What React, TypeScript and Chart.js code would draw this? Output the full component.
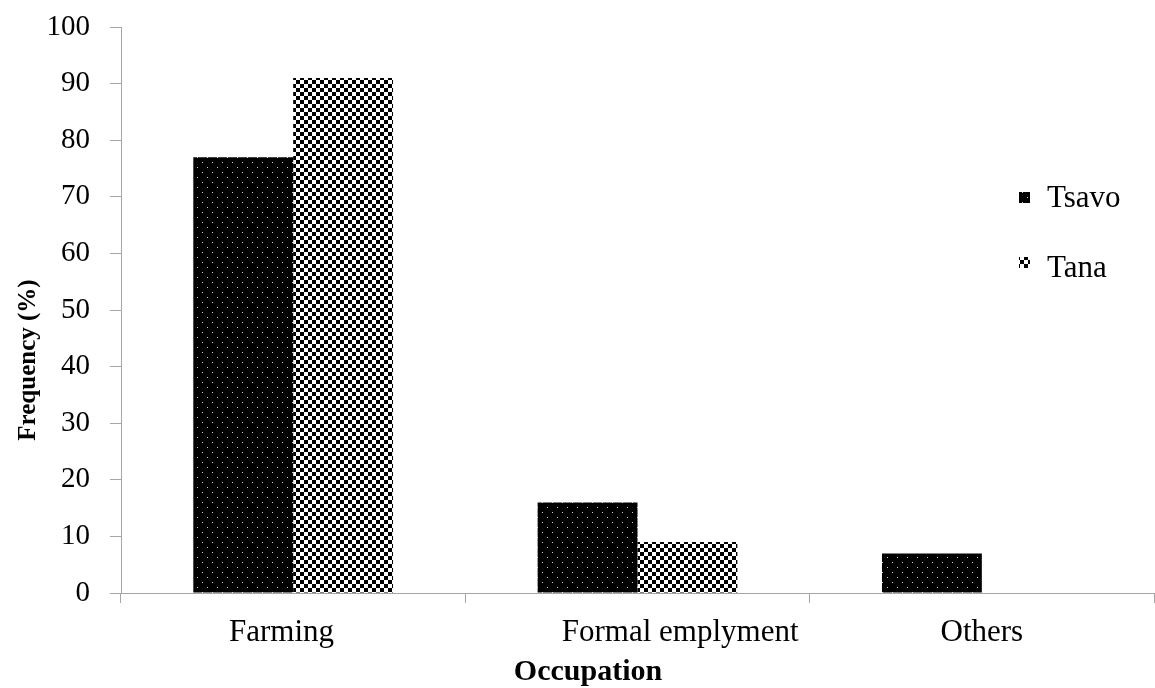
import React, { useEffect, useRef } from "react";
import { Chart, registerables } from "chart.js";

Chart.register(...registerables);

// Occupation categories and the shares (%) of each study area
const categories = ["Farming", "Formal emplyment", "Others"];
// Axis labels as typed in the source sheet (padding spaces shift their centres)
const tickLabels = ["Farming   ", "           Formal emplyment", "Others"];
const tsavoValues = [77, 16, 7];
const tanaValues = [91, 9, 0];
const seriesNames = ["Tsavo", "Tana"];
const yTicks = { min: 0, max: 100, step: 10 };

const SERIF = '"Liberation Serif", "Times New Roman", serif';
const AXIS_GREY = "#a6a6a6";

function makeDotPattern(ctx: CanvasRenderingContext2D): CanvasPattern {
  const c = document.createElement("canvas");
  c.width = 10;
  c.height = 10;
  const g = c.getContext("2d")!;
  g.fillStyle = "#000";
  g.fillRect(0, 0, 10, 10);
  g.fillStyle = "#cfcfcf";
  g.fillRect(2, 2, 1, 1);
  g.fillRect(7, 7, 1, 1);
  return ctx.createPattern(c, "repeat")!;
}

function makeCheckerPattern(ctx: CanvasRenderingContext2D): CanvasPattern {
  const c = document.createElement("canvas");
  c.width = 8;
  c.height = 8;
  const g = c.getContext("2d")!;
  g.fillStyle = "#fff";
  g.fillRect(0, 0, 8, 8);
  g.fillStyle = "#000";
  g.fillRect(0, 0, 4, 4);
  g.fillRect(4, 4, 4, 4);
  return ctx.createPattern(c, "repeat")!;
}

export default function App() {
  const canvasRef = useRef<HTMLCanvasElement | null>(null);

  useEffect(() => {
    const canvas = canvasRef.current;
    if (!canvas) return;
    const ctx = canvas.getContext("2d")!;
    const dots = makeDotPattern(ctx);
    const checker = makeCheckerPattern(ctx);
    const fills = [dots, checker];

    // Axis titles, placed as in the original layout
    const axisTitles = {
      id: "axisTitles",
      afterDraw(chart: Chart) {
        const c = chart.ctx;
        c.save();
        c.fillStyle = "#000";
        c.font = `bold 30px ${SERIF}`;
        c.textAlign = "center";
        c.textBaseline = "alphabetic";
        c.fillText("Occupation", 588, 680);
        c.translate(35, 360);
        c.rotate(-Math.PI / 2);
        c.font = `bold 25px ${SERIF}`;
        c.fillText("Frequency (%)", 0, 0);
        c.restore();
      },
    };

    // Legend drawn inside the plot area on the right
    const insideLegend = {
      id: "insideLegend",
      afterDraw(chart: Chart) {
        const c = chart.ctx;
        c.save();
        c.font = `31px ${SERIF}`;
        c.fillStyle = "#000";
        c.textBaseline = "alphabetic";
        seriesNames.forEach((name, i) => {
          const y = 192 + i * 65;
          c.fillStyle = fills[i];
          c.fillRect(1019, y, 11, 11);
          c.fillStyle = "#000";
          c.fillText(name, 1047, y + 15 + i * 5);
        });
        c.restore();
      },
    };

    const chart = new Chart(canvas, {
      type: "bar",
      data: {
        labels: tickLabels,
        datasets: [
          {
            label: seriesNames[0],
            data: tsavoValues,
            backgroundColor: dots,
            borderWidth: 0,
          },
          {
            label: seriesNames[1],
            data: tanaValues,
            backgroundColor: checker,
            borderWidth: 0,
          },
        ],
      },
      options: {
        animation: false,
        responsive: true,
        maintainAspectRatio: false,
        layout: { padding: { top: 27, right: 1, left: 0, bottom: 0 } },
        datasets: {
          bar: { categoryPercentage: 0.58, barPercentage: 1.0 },
        },
        plugins: {
          legend: { display: false },
          tooltip: { enabled: false },
          title: { display: false },
        },
        scales: {
          x: {
            grid: {
              display: true,
              drawOnChartArea: false,
              drawTicks: true,
              tickLength: 10,
              color: AXIS_GREY,
              offset: true,
            },
            border: { display: true, color: AXIS_GREY, width: 1 },
            ticks: {
              color: "#000",
              font: { family: SERIF, size: 31 },
              padding: 11,
              maxRotation: 0,
              autoSkip: false,
            },
            afterFit(scale: any) {
              scale.height = 95;
            },
          },
          y: {
            min: yTicks.min,
            max: yTicks.max,
            grid: {
              display: true,
              drawOnChartArea: false,
              drawTicks: true,
              tickLength: 11,
              color: AXIS_GREY,
            },
            border: { display: true, color: AXIS_GREY, width: 1 },
            ticks: {
              stepSize: yTicks.step,
              color: "#000",
              font: { family: SERIF, size: 29 },
              padding: 20,
            },
            afterFit(scale: any) {
              scale.width = 121;
              scale.paddingTop = 0;
              scale.paddingBottom = 0;
            },
          },
        },
      },
      plugins: [axisTitles, insideLegend],
    });

    return () => chart.destroy();
  }, []);

  return (
    <div
      style={{
        position: "absolute",
        left: 0,
        top: 0,
        width: 1155,
        height: 688,
        background: "#fff",
      }}
    >
      <canvas ref={canvasRef} aria-label={categories.join(", ")} />
    </div>
  );
}
